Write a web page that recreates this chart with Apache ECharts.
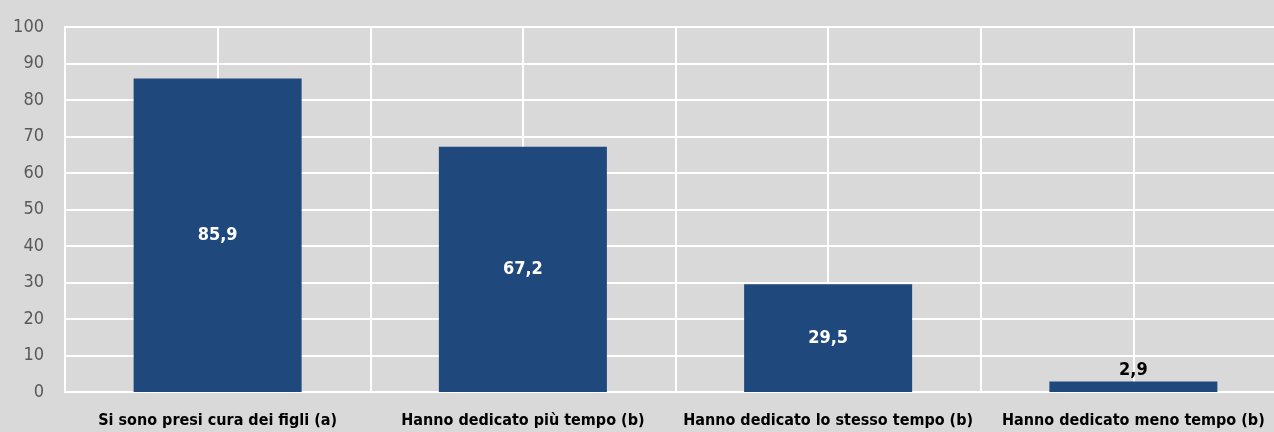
<!DOCTYPE html>
<html>
<head>
<meta charset="utf-8">
<script src="https://cdn.jsdelivr.net/npm/echarts@6/dist/echarts.min.js"></script>
<style>
  html, body { margin: 0; padding: 0; background: #d9d9d9; }
  #main { width: 1274px; height: 432px; }
</style>
</head>
<body>
<div id="main"></div>
<script>
// categorie e valori
var categories = [
  'Si sono presi cura dei figli (a)',
  'Hanno dedicato più tempo (b)',
  'Hanno dedicato lo stesso tempo (b)',
  'Hanno dedicato meno tempo (b)'
];
var values = [85.9, 67.2, 29.5, 2.9];
var yTicks = [0, 10, 20, 30, 40, 50, 60, 70, 80, 90, 100];

var narrow = '"DejaVu Sans Condensed", "Liberation Sans Narrow", "Arial Narrow", sans-serif';

var myChart = echarts.init(document.getElementById('main'));

var barData = values.map(function (v) {
  var small = v < 10;
  return {
    value: v,
    label: {
      position: small ? 'top' : 'inside',
      color: small ? '#000000' : '#ffffff'
    }
  };
});

var option = {
  backgroundColor: '#d9d9d9',
  animation: false,
  grid: { left: 65, width: 1221, top: 27, bottom: 40, outerBoundsMode: 'none', containLabel: false },
  xAxis: [
    {
      type: 'category',
      data: categories,
      axisLine: { show: true, lineStyle: { color: '#ffffff', width: 2 } },
      axisTick: { show: false },
      splitLine: { show: false },
      axisLabel: {
        color: '#000000',
        fontFamily: narrow,
        fontWeight: 'bold',
        fontSize: 16,
        margin: 21,
        interval: 0
      }
    },
    {
      // linee verticali a metà categoria
      type: 'value',
      position: 'top',
      min: 0,
      max: 8,
      interval: 1,
      axisLine: { show: false },
      axisTick: { show: false },
      axisLabel: { show: false },
      splitLine: { show: true, lineStyle: { color: '#ffffff', width: 2 } }
    }
  ],
  yAxis: {
    type: 'value',
    min: yTicks[0],
    max: yTicks[yTicks.length - 1],
    interval: 10,
    axisLine: { show: true, lineStyle: { color: '#ffffff', width: 2 } },
    axisTick: { show: false },
    axisLabel: {
      color: '#595959',
      fontFamily: narrow,
      fontSize: 18,
      margin: 21
    },
    splitLine: { show: true, lineStyle: { color: '#ffffff', width: 2 } }
  },
  series: [
    {
      type: 'bar',
      xAxisIndex: 0,
      data: barData,
      barWidth: 168,
      itemStyle: { color: '#1f497d' },
      label: {
        show: true,
        fontFamily: narrow,
        fontWeight: 'bold',
        fontSize: 18,
        distance: 2,
        formatter: function (p) {
          return String(p.value).replace('.', ',');
        }
      }
    }
  ]
};

myChart.setOption(option, true);
</script>
</body>
</html>
